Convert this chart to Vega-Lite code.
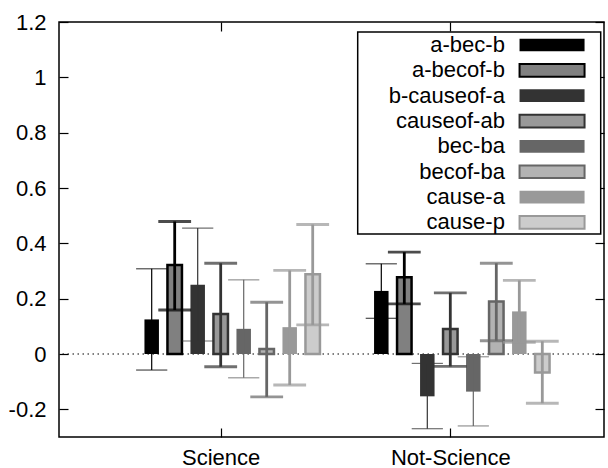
{
  "$schema": "https://vega.github.io/schema/vega-lite/v6.json",
  "width": 545,
  "height": 415,
  "autosize": {"type": "none"},
  "padding": {"left": 59, "top": 22, "right": 4, "bottom": 31},
  "background": "white",
  "config": {
    "view": {"stroke": "black", "strokeWidth": 1.5},
    "font": "Liberation Sans",
    "axis": {"labelFont": "Liberation Sans", "labelFontSize": 22, "labelColor": "black", "tickColor": "black", "tickWidth": 1.2, "tickSize": -9, "domain": false, "grid": false},
    "legend": {
      "orient": "none", "legendX": 298.7, "legendY": 10,
      "symbolType": "M-2.79,-0.545H2.79V0.545H-2.79ZM-16.65,0M3.82,0",
      "symbolSize": 543, "symbolStrokeWidth": 2, "symbolOffset": 181.35,
      "labelFont": "Liberation Sans", "labelFontSize": 22, "labelColor": "black",
      "labelAlign": "right", "labelBaseline": "middle", "labelOffset": -60.15, "labelLimit": 0,
      "rowPadding": 1.35, "padding": 0,
      "strokeColor": "black", "strokeWidth": 1.5, "fillColor": "white"
    }
  },
  "datasets": {
    "bars": [
      {"group": "Science", "series": "a-bec-b", "value": 0.125, "lo": -0.058, "hi": 0.308},
      {"group": "Science", "series": "a-becof-b", "value": 0.322, "lo": 0.159, "hi": 0.479},
      {"group": "Science", "series": "b-causeof-a", "value": 0.25, "lo": 0.047, "hi": 0.455},
      {"group": "Science", "series": "causeof-ab", "value": 0.145, "lo": -0.046, "hi": 0.328},
      {"group": "Science", "series": "bec-ba", "value": 0.091, "lo": -0.086, "hi": 0.268},
      {"group": "Science", "series": "becof-ba", "value": 0.018, "lo": -0.155, "hi": 0.187},
      {"group": "Science", "series": "cause-a", "value": 0.097, "lo": -0.112, "hi": 0.302},
      {"group": "Science", "series": "cause-p", "value": 0.288, "lo": 0.105, "hi": 0.468},
      {"group": "Not-Science", "series": "a-bec-b", "value": 0.228, "lo": 0.129, "hi": 0.326},
      {"group": "Not-Science", "series": "a-becof-b", "value": 0.277, "lo": 0.181, "hi": 0.368},
      {"group": "Not-Science", "series": "b-causeof-a", "value": -0.153, "lo": -0.27, "hi": -0.034},
      {"group": "Not-Science", "series": "causeof-ab", "value": 0.09, "lo": -0.045, "hi": 0.221},
      {"group": "Not-Science", "series": "bec-ba", "value": -0.136, "lo": -0.26, "hi": -0.01},
      {"group": "Not-Science", "series": "becof-ba", "value": 0.19, "lo": 0.048, "hi": 0.328},
      {"group": "Not-Science", "series": "cause-a", "value": 0.154, "lo": 0.042, "hi": 0.266},
      {"group": "Not-Science", "series": "cause-p", "value": -0.067, "lo": -0.178, "hi": 0.046}
    ]
  },
  "resolve": {"scale": {"x": "independent", "y": "independent"}},
  "layer": [
    {
      "data": {"values": [{}]},
      "mark": {"type": "rule", "stroke": "black", "strokeWidth": 1.2, "strokeDash": [1.5, 3.5]},
      "encoding": {
        "y": {"datum": 0, "type": "quantitative", "scale": {"domain": [-0.3, 1.2], "nice": false, "zero": false},
              "axis": {"orient": "right", "labels": false, "title": null, "values": [-0.2, 0, 0.2, 0.4, 0.6, 0.8, 1, 1.2]}}
      }
    },
    {
      "data": {"name": "bars"},
      "mark": {"type": "rule", "opacity": 0},
      "encoding": {
        "x": {"field": "group", "type": "nominal", "sort": ["Science", "Not-Science"],
              "scale": {"paddingInner": 0.1986, "paddingOuter": 0.2861, "align": 0.618},
              "axis": {"orient": "top", "labels": false, "title": null, "tickOffset": -11.5}}
      }
    },
    {
      "data": {"name": "bars"},
      "encoding": {
        "x": {"field": "group", "type": "nominal", "sort": ["Science", "Not-Science"],
              "scale": {"paddingInner": 0.1986, "paddingOuter": 0.2861, "align": 0.618},
              "axis": {"orient": "bottom", "title": null, "labelAngle": 0, "labelPadding": 19, "tickOffset": -11.5}},
        "xOffset": {"field": "series", "type": "nominal",
              "scale": {"domain": ["a-bec-b", "a-becof-b", "b-causeof-a", "causeof-ab", "bec-ba", "becof-ba", "cause-a", "cause-p"], "paddingInner": 0.3696, "paddingOuter": 0.1848}}
      },
      "layer": [
        {
          "mark": {"type": "bar", "strokeWidth": 2.5},
          "encoding": {
            "y": {"field": "value", "type": "quantitative", "scale": {"domain": [-0.3, 1.2], "nice": false, "zero": false},
                  "axis": {"title": null, "values": [-0.2, 0, 0.2, 0.4, 0.6, 0.8, 1, 1.2], "labelExpr": "'' + datum.value", "labelPadding": 22}},
            "fill": {"field": "series", "type": "nominal",
                     "scale": {"domain": ["a-bec-b", "a-becof-b", "b-causeof-a", "causeof-ab", "bec-ba", "becof-ba", "cause-a", "cause-p"],
                               "range": ["#000000", "#808080", "#333333", "#999999", "#666666", "#b3b3b3", "#999999", "#cccccc"]},
                     "legend": {"title": null}},
            "stroke": {"field": "series", "type": "nominal",
                     "scale": {"domain": ["a-bec-b", "a-becof-b", "b-causeof-a", "causeof-ab", "bec-ba", "becof-ba", "cause-a", "cause-p"],
                               "range": ["transparent", "#000000", "transparent", "#333333", "transparent", "#666666", "transparent", "#999999"]},
                     "legend": {"title": null}}
          }
        },
        {
          "transform": [{"filter": {"field": "series", "oneOf": ["a-bec-b", "b-causeof-a", "bec-ba"]}}],
          "mark": {"type": "rule", "strokeWidth": 1.2},
          "encoding": {
            "y": {"field": "lo", "type": "quantitative"},
            "y2": {"field": "hi"},
            "color": {"field": "series", "type": "nominal", "legend": null,
                      "scale": {"domain": ["a-bec-b", "a-becof-b", "b-causeof-a", "causeof-ab", "bec-ba", "becof-ba", "cause-a", "cause-p"],
                                "range": ["#000000", "#000000", "#333333", "#333333", "#666666", "#666666", "#999999", "#999999"]}}
          }
        },
        {
          "transform": [{"filter": {"field": "series", "oneOf": ["a-becof-b", "causeof-ab", "becof-ba", "cause-a", "cause-p"]}}],
          "mark": {"type": "rule", "strokeWidth": 2.8},
          "encoding": {
            "y": {"field": "lo", "type": "quantitative"},
            "y2": {"field": "hi"},
            "color": {"field": "series", "type": "nominal", "legend": null}
          }
        },
        {
          "transform": [{"filter": {"field": "series", "oneOf": ["a-bec-b", "b-causeof-a", "bec-ba"]}}],
          "mark": {"type": "tick", "filled": false, "thickness": 0.01, "size": 30, "strokeWidth": 1.2},
          "encoding": {
            "y": {"field": "hi", "type": "quantitative"},
            "color": {"field": "series", "type": "nominal", "legend": null}
          }
        },
        {
          "transform": [{"filter": {"field": "series", "oneOf": ["a-bec-b", "b-causeof-a", "bec-ba"]}}],
          "mark": {"type": "tick", "filled": false, "thickness": 0.01, "size": 30, "strokeWidth": 1.2},
          "encoding": {
            "y": {"field": "lo", "type": "quantitative"},
            "color": {"field": "series", "type": "nominal", "legend": null}
          }
        },
        {
          "transform": [{"filter": {"field": "series", "oneOf": ["a-becof-b", "causeof-ab", "becof-ba", "cause-a", "cause-p"]}}],
          "mark": {"type": "tick", "filled": false, "thickness": 0.01, "size": 30, "strokeWidth": 2.8},
          "encoding": {
            "y": {"field": "hi", "type": "quantitative"},
            "color": {"field": "series", "type": "nominal", "legend": null}
          }
        },
        {
          "transform": [{"filter": {"field": "series", "oneOf": ["a-becof-b", "causeof-ab", "becof-ba", "cause-a", "cause-p"]}}],
          "mark": {"type": "tick", "filled": false, "thickness": 0.01, "size": 30, "strokeWidth": 2.8},
          "encoding": {
            "y": {"field": "lo", "type": "quantitative"},
            "color": {"field": "series", "type": "nominal", "legend": null}
          }
        }
      ]
    }
  ]
}
